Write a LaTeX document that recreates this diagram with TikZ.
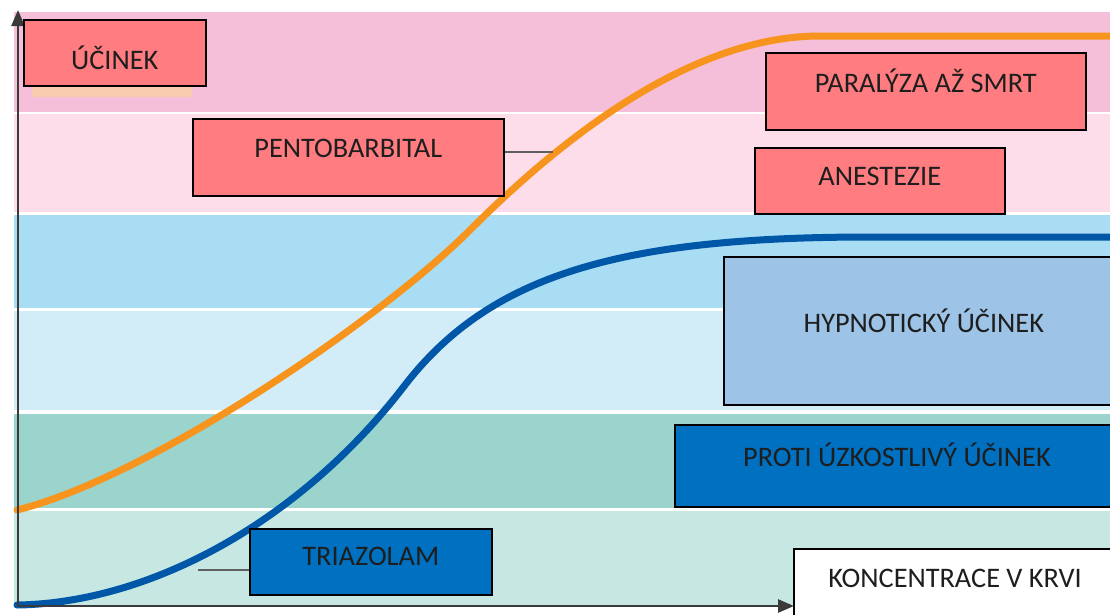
\documentclass[tikz,border=0pt]{standalone}
\usepackage{fontspec}
\setmainfont{Carlito}
\usetikzlibrary{arrows.meta}
\definecolor{bandA}{HTML}{F5BFD9}
\definecolor{bandB}{HTML}{FDDDE9}
\definecolor{bandC}{HTML}{A8DDF4}
\definecolor{bandD}{HTML}{D2ECF8}
\definecolor{bandE}{HTML}{9AD4CD}
\definecolor{bandF}{HTML}{C6E7E2}
\definecolor{salmon}{HTML}{FF7C80}
\definecolor{paleblue}{HTML}{9DC3E6}
\definecolor{midblue}{HTML}{0070C0}
\definecolor{curveorange}{HTML}{F7941D}
\definecolor{curveblue}{HTML}{0057A8}
\definecolor{axisgray}{HTML}{3A3A3A}
\definecolor{linkgray}{HTML}{5F5F5F}
\definecolor{txt}{HTML}{1E1E1E}
\definecolor{peach}{HTML}{F8CBAD}
\tikzset{
  box/.style={draw=black, line width=1.6pt, rectangle, inner sep=0pt, anchor=north west},
  lbl/.style={text=txt, font=\fontsize{28.3}{31}\selectfont, inner sep=0pt, anchor=center},
  curve/.style={line width=7pt, line cap=round},
  axis/.style={draw=axisgray, line width=2.6pt, -{Triangle[length=16pt,width=13pt]}},
  link/.style={draw=linkgray, line width=2.2pt}
}
\begin{document}
\begin{tikzpicture}[x=1pt,y=-1pt]
\useasboundingbox (0,0) rectangle (1110,614);
\fill[white] (0,0) rectangle (1110,614);
% bands
\fill[bandA] (14,12) rectangle (1110,112);
\fill[bandB] (14,114) rectangle (1110,212);
\fill[bandC] (14,215) rectangle (1110,308);
\fill[bandD] (14,311) rectangle (1110,410);
\fill[bandE] (14,414) rectangle (1110,508);
\fill[bandF] (14,511) rectangle (1110,605);
% peach strip under ÚČINEK
\fill[peach] (32,87) rectangle (192,97);
% connector end points
\coordinate (pentoEnd) at (553,152);
\coordinate (triaEnd) at (198,570);
% curves
\draw[curve, draw=curveorange] (17,510) .. controls (150,477) and (380,320) .. (470,230)
  .. controls (560,140) and (690,36) .. (820,36) -- (1112,36);
\draw[curve, draw=curveblue] (17,605) .. controls (150,603) and (300,522) .. (405,385)
  .. controls (490,275) and (620,237) .. (870,237) -- (1112,237);
% axes
\coordinate (origin) at (18,606);
\coordinate (ytip) at (18,10);
\coordinate (xtip) at (794,606);
\draw[axis] (origin) -- (ytip);
\draw[axis] (origin) -- (xtip);
% boxes
\node[box, fill=salmon, minimum width=182pt, minimum height=66pt] (ucinek) at (23,19) {};
\node[lbl] at ([yshift=-5pt]ucinek.center) {ÚČINEK};
\node[box, fill=salmon, minimum width=311pt, minimum height=77pt] (pento) at (192,118) {};
\node[lbl] at ([yshift=9pt]pento.center) {PENTOBARBITAL};
\node[box, fill=salmon, minimum width=320pt, minimum height=77pt] (paral) at (765,52) {};
\node[lbl] at ([yshift=11pt]paral.center) {PARALÝZA AŽ SMRT};
\node[box, fill=salmon, minimum width=250pt, minimum height=66pt] (anest) at (754,147) {};
\node[lbl] at ([yshift=4pt]anest.center) {ANESTEZIE};
\node[box, fill=paleblue, minimum width=400pt, minimum height=148pt] (hypno) at (723,256) {};
\node[lbl] at ([yshift=10pt]hypno.center) {HYPNOTICKÝ ÚČINEK};
\node[box, fill=midblue, minimum width=450pt, minimum height=82pt] (proti) at (674,424) {};
\node[lbl] at (897,455) {PROTI ÚZKOSTLIVÝ ÚČINEK};
\node[box, fill=midblue, minimum width=242pt, minimum height=66pt] (tria) at (249,528) {};
\node[lbl] at ([yshift=5pt]tria.center) {TRIAZOLAM};
\node[box, fill=white, minimum width=330pt, minimum height=70pt] (konc) at (793,548) {};
\node[lbl] at (955,578) {KONCENTRACE V KRVI};
% connectors
\draw[link] (pento.east |- pentoEnd) -- (pentoEnd);
\draw[link] (tria.west |- triaEnd) -- (triaEnd);
\end{tikzpicture}
\end{document}
